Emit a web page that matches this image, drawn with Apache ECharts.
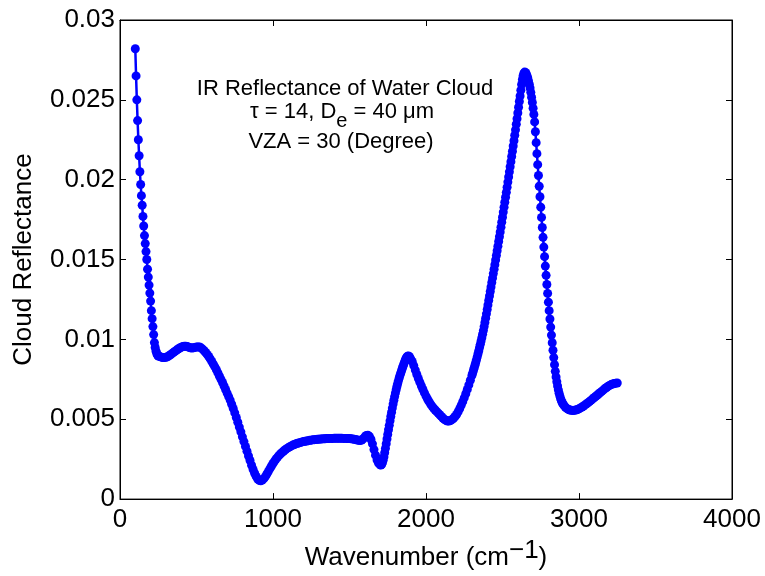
<!DOCTYPE html>
<html>
<head>
<meta charset="utf-8">
<script src="https://cdn.jsdelivr.net/npm/echarts@6.0.0/dist/echarts.min.js"></script>
<style>
  html, body { margin: 0; padding: 0; background: #ffffff; }
  #chart { width: 765px; height: 576px; }
</style>
</head>
<body>
<div id="chart"></div>
<script>
// Spectral grid (cm^-1)
const wavenumber = [
  100, 105, 110, 115, 120, 125, 130, 135, 140, 145,
  150, 155, 160, 165, 170, 175, 180, 185, 190, 195,
  200, 205, 210, 215, 220, 225, 230, 235, 240, 245, 250,
  260, 270, 280, 290, 300, 310, 320, 330, 340, 350,
  360, 370, 380, 390, 400, 410, 420, 430, 440, 450,
  460, 470, 480, 490, 500, 510, 520, 530, 540, 550,
  560, 570, 580, 590, 600, 610, 620, 630, 640, 650,
  660, 670, 680, 690, 700, 710, 720, 730, 740, 750,
  760, 770, 780, 790, 800, 810, 820, 830, 840, 850,
  860, 870, 880, 890, 900, 910, 920, 930, 940, 950,
  960, 970, 980, 990, 1000, 1010, 1020, 1030, 1040, 1050,
  1060, 1070, 1080, 1090, 1100, 1110, 1120, 1130, 1140, 1150,
  1160, 1170, 1180, 1190, 1200, 1210, 1220, 1230, 1240, 1250,
  1260, 1270, 1280, 1290, 1300, 1310, 1320, 1330, 1340, 1350,
  1360, 1370, 1380, 1390, 1400, 1410, 1420, 1430, 1440, 1450,
  1460, 1470, 1480, 1490, 1500, 1510, 1520, 1530, 1540, 1550,
  1560, 1570, 1580, 1590, 1600, 1610, 1620, 1630, 1640, 1650,
  1660, 1670, 1680, 1690,
  1700, 1705, 1710, 1715, 1720, 1725, 1730, 1735, 1740, 1745,
  1750, 1755, 1760, 1765, 1770, 1775, 1780, 1785, 1790, 1795,
  1800, 1805, 1810, 1815, 1820, 1825, 1830, 1835, 1840, 1845,
  1850, 1855, 1860, 1865, 1870, 1875, 1880, 1885, 1890, 1895, 1900,
  1910, 1920, 1930, 1940, 1950, 1960, 1970, 1980, 1990, 2000,
  2010, 2020, 2030, 2040, 2050, 2060, 2070, 2080, 2090, 2100,
  2110, 2120, 2130, 2140, 2150, 2160, 2170, 2180, 2190, 2200,
  2210, 2220, 2230, 2240, 2250, 2260, 2270, 2280, 2290,
  2300, 2305, 2310, 2315, 2320, 2325, 2330, 2335, 2340, 2345,
  2350, 2355, 2360, 2365, 2370, 2375, 2380, 2385, 2390, 2395,
  2400, 2405, 2410, 2415, 2420, 2425, 2430, 2435, 2440, 2445,
  2450, 2455, 2460, 2465, 2470, 2475, 2480, 2485, 2490, 2495,
  2500, 2505, 2510, 2515, 2520, 2525, 2530, 2535, 2540, 2545,
  2550, 2555, 2560, 2565, 2570, 2575, 2580, 2585, 2590, 2595,
  2600, 2605, 2610, 2615, 2620, 2625, 2630, 2635, 2640, 2645,
  2650, 2655, 2660, 2665, 2670, 2675, 2680, 2685, 2690, 2695,
  2700, 2705, 2710, 2715, 2720, 2725, 2730, 2735, 2740, 2745,
  2750, 2755, 2760, 2765, 2770, 2775, 2780, 2785, 2790, 2795,
  2800, 2805, 2810, 2815, 2820, 2825, 2830, 2835, 2840, 2845,
  2850, 2855, 2860, 2865, 2870, 2875, 2880, 2885, 2890, 2895, 2900,
  2910, 2920, 2930, 2940, 2950, 2960, 2970, 2980, 2990, 3000,
  3010, 3020, 3030, 3040, 3050, 3060, 3070, 3080, 3090, 3100,
  3110, 3120, 3130, 3140, 3150, 3160, 3170, 3180, 3190, 3200,
  3210, 3220, 3230, 3240, 3250
];

// Cloud reflectance at each wavenumber
const reflectance = [
  0.0282, 0.0265, 0.0250, 0.0237, 0.0225, 0.0215, 0.0205, 0.0197, 0.0190, 0.0184,
  0.0177, 0.0171, 0.0165, 0.0160, 0.0155, 0.0150, 0.0144, 0.0139, 0.0134, 0.0129,
  0.0124, 0.0118, 0.0113, 0.0108, 0.0103, 0.0098, 0.0095, 0.00928, 0.00912, 0.00902, 0.00896,
  0.00893, 0.00889, 0.00887, 0.00887, 0.00888, 0.00891, 0.00897, 0.00904, 0.00911, 0.00919,
  0.00926, 0.00933, 0.00940, 0.00946, 0.00951, 0.00955, 0.00957, 0.00957, 0.00955, 0.00951,
  0.00948, 0.00946, 0.00947, 0.00950, 0.00952, 0.00953, 0.00952, 0.00947, 0.00939, 0.00929,
  0.00918, 0.00906, 0.00893, 0.00878, 0.00862, 0.00845, 0.00828, 0.00810, 0.00790, 0.00770,
  0.00750, 0.00730, 0.00708, 0.00686, 0.00664, 0.00642, 0.00620, 0.00594, 0.00568, 0.00540,
  0.00511, 0.00481, 0.00451, 0.00421, 0.00390, 0.00360, 0.00330, 0.00300, 0.00270, 0.00242,
  0.00212, 0.00185, 0.00162, 0.00142, 0.00126, 0.00117, 0.00115, 0.00119, 0.00128, 0.00141,
  0.00157, 0.00174, 0.00191, 0.00207, 0.00223, 0.00238, 0.00251, 0.00263, 0.00274, 0.00284,
  0.00293, 0.00301, 0.00309, 0.00316, 0.00322, 0.00328, 0.00333, 0.00338, 0.00342, 0.00346,
  0.00349, 0.00352, 0.00355, 0.00358, 0.00360, 0.00362, 0.00364, 0.00366, 0.00368, 0.00369,
  0.00371, 0.00372, 0.00373, 0.00374, 0.00375, 0.00376, 0.00377, 0.00378, 0.00378, 0.00379,
  0.00379, 0.00380, 0.00380, 0.00380, 0.00381, 0.00381, 0.00381, 0.00381, 0.00381, 0.00381,
  0.00380, 0.00380, 0.00380, 0.00379, 0.00379, 0.00378, 0.00377, 0.00375, 0.00373, 0.00370,
  0.00368, 0.00367, 0.00370, 0.00378, 0.00390, 0.00398, 0.00400, 0.00393, 0.00375, 0.00346,
  0.00310, 0.00275, 0.00245, 0.00225,
  0.00215, 0.00213, 0.00217, 0.00227, 0.00243, 0.00264, 0.00290, 0.00318, 0.00347, 0.00376,
  0.00405, 0.00434, 0.00462, 0.00490, 0.00517, 0.00544, 0.00570, 0.00595, 0.00619, 0.00642,
  0.00664, 0.00685, 0.00705, 0.00724, 0.00742, 0.00759, 0.00775, 0.00790, 0.00804, 0.00818,
  0.00832, 0.00846, 0.00859, 0.00871, 0.00882, 0.00890, 0.00895, 0.00896, 0.00893, 0.00886, 0.00876,
  0.00862, 0.00836, 0.00808, 0.00780, 0.00755, 0.00731, 0.00708, 0.00686, 0.00665, 0.00645,
  0.00627, 0.00610, 0.00595, 0.00581, 0.00569, 0.00558, 0.00548, 0.00538, 0.00528, 0.00518,
  0.00508, 0.00499, 0.00493, 0.00489, 0.00489, 0.00492, 0.00498, 0.00506, 0.00517, 0.00530,
  0.00547, 0.00566, 0.00587, 0.00610, 0.00634, 0.00660, 0.00687, 0.00715, 0.00744,
  0.00774, 0.00789, 0.00805, 0.00821, 0.00838, 0.00855, 0.00873, 0.00891, 0.00910, 0.00929,
  0.00949, 0.00969, 0.00990, 0.01011, 0.01033, 0.01055, 0.01080, 0.01106, 0.01133, 0.01160,
  0.01188, 0.01216, 0.01244, 0.01272, 0.01300, 0.01328, 0.01356, 0.01384, 0.01412, 0.01440,
  0.01468, 0.01497, 0.01526, 0.01555, 0.01584, 0.01613, 0.01643, 0.01673, 0.01703, 0.01734,
  0.01765, 0.01797, 0.01828, 0.01859, 0.01890, 0.01921, 0.01953, 0.01985, 0.02017, 0.02049,
  0.02081, 0.02113, 0.02145, 0.02178, 0.02211, 0.02244, 0.02278, 0.02312, 0.02347, 0.02382,
  0.02418, 0.02454, 0.02490, 0.02524, 0.02560, 0.02596, 0.02628, 0.02652, 0.02667, 0.02674,
  0.02672, 0.02664, 0.02652, 0.02637, 0.02619, 0.02598, 0.02574, 0.02547, 0.02517, 0.02484,
  0.02448, 0.02409, 0.02362, 0.02300, 0.02232, 0.02163, 0.02094, 0.02026, 0.01959, 0.01893,
  0.01828, 0.01764, 0.01701, 0.01639, 0.01578, 0.01518, 0.01459, 0.01401, 0.01344, 0.01288,
  0.01233, 0.01180, 0.01128, 0.01077, 0.01027, 0.00979, 0.00932, 0.00886, 0.00842, 0.00800,
  0.00765, 0.00735, 0.00708, 0.00684, 0.00663, 0.00645, 0.00629, 0.00616, 0.00605, 0.00596, 0.00589,
  0.00577, 0.00568, 0.00562, 0.00558, 0.00556, 0.00555, 0.00556, 0.00558, 0.00561, 0.00566,
  0.00571, 0.00577, 0.00583, 0.00590, 0.00597, 0.00604, 0.00612, 0.00620, 0.00628, 0.00636,
  0.00644, 0.00652, 0.00660, 0.00668, 0.00676, 0.00684, 0.00692, 0.00699, 0.00706, 0.00712,
  0.00717, 0.00721, 0.00724, 0.00726, 0.00727
];

const xTickLabels = ['0', '1000', '2000', '3000', '4000'];
const yTickLabels = ['0', '0.005', '0.01', '0.015', '0.02', '0.025', '0.03'];
const titleLine1 = 'IR Reflectance of Water Cloud';
const titleLine3 = 'VZA = 30 (Degree)';

const FONT = "'Liberation Sans', Arial, Helvetica, sans-serif";
const X_MIN = 0, X_MAX = 4000, X_STEP = 1000;
const Y_MIN = 0, Y_MAX = 0.03, Y_STEP = 0.005;

const points = wavenumber.map((w, i) => [w, reflectance[i]]);

const chart = echarts.init(document.getElementById('chart'), null, { renderer: 'canvas' });

const tickStyle = { show: true, inside: true, length: 6, lineStyle: { color: '#000', width: 1 } };
const lineStyle = { show: true, onZero: false, lineStyle: { color: '#000', width: 1 } };

chart.setOption({
  animation: false,
  backgroundColor: '#ffffff',
  grid: {
    left: 120, right: 33, top: 20, bottom: 74,
    show: true, borderColor: '#000', borderWidth: 1, backgroundColor: 'transparent'
  },
  xAxis: [
    {
      type: 'value', position: 'bottom', min: X_MIN, max: X_MAX, interval: X_STEP,
      axisLine: lineStyle, axisTick: tickStyle, splitLine: { show: false },
      axisLabel: {
        color: '#000', fontSize: 26, fontFamily: FONT, margin: 8,
        formatter: v => xTickLabels[Math.round(v / X_STEP)]
      },
      name: '{n|Wavenumber (cm}{sup|\u22121}{n|)}',
      nameLocation: 'middle', nameGap: 35,
      nameTextStyle: {
        color: '#000', fontSize: 26, fontFamily: FONT,
        rich: {
          n: { color: '#000', fontSize: 26, fontFamily: FONT, verticalAlign: 'bottom' },
          sup: { color: '#000', fontSize: 26, fontFamily: FONT, verticalAlign: 'bottom', padding: [0, 0, 7, 0] }
        }
      }
    },
    {
      type: 'value', position: 'top', min: X_MIN, max: X_MAX, interval: X_STEP,
      axisLine: lineStyle, axisTick: tickStyle, splitLine: { show: false },
      axisLabel: { show: false }
    }
  ],
  yAxis: [
    {
      type: 'value', position: 'left', min: Y_MIN, max: Y_MAX, interval: Y_STEP,
      axisLine: lineStyle, axisTick: tickStyle, splitLine: { show: false },
      axisLabel: {
        color: '#000', fontSize: 26, fontFamily: FONT, margin: 5,
        formatter: v => yTickLabels[Math.round(v / Y_STEP)]
      },
      name: 'Cloud Reflectance',
      nameLocation: 'middle', nameGap: 83,
      nameTextStyle: { color: '#000', fontSize: 26, fontFamily: FONT }
    },
    {
      type: 'value', position: 'right', min: Y_MIN, max: Y_MAX, interval: Y_STEP,
      axisLine: lineStyle, axisTick: tickStyle, splitLine: { show: false },
      axisLabel: { show: false }
    }
  ],
  series: [
    {
      type: 'line',
      xAxisIndex: 0, yAxisIndex: 0,
      data: points,
      symbol: 'circle', symbolSize: 9, showSymbol: true,
      lineStyle: { color: '#0000ff', width: 2.5 },
      itemStyle: { color: '#0000ff', borderWidth: 0 },
      emphasis: { disabled: true },
      z: 3
    }
  ],
  graphic: [
    {
      type: 'text', x: 345, y: 88.5, z: 10,
      style: {
        text: titleLine1, fill: '#000', fontSize: 22, fontFamily: FONT,
        align: 'center', verticalAlign: 'middle'
      }
    },
    {
      type: 'text', x: 342, y: 100.5, z: 10,
      style: {
        text: '{n|\u03c4 = 14, D}{sub|e}{n| = 40 \u03bcm}',
        fill: '#000', fontSize: 22, fontFamily: FONT,
        align: 'center', verticalAlign: 'top',
        rich: {
          n: { fill: '#000', fontSize: 22, fontFamily: FONT, verticalAlign: 'top' },
          sub: { fill: '#000', fontSize: 20, fontFamily: FONT, verticalAlign: 'top', padding: [11, 0, 0, 0] }
        }
      }
    },
    {
      type: 'text', x: 341, y: 142, z: 10,
      style: {
        text: titleLine3, fill: '#000', fontSize: 22, fontFamily: FONT,
        align: 'center', verticalAlign: 'middle'
      }
    }
  ]
});
</script>
</body>
</html>
